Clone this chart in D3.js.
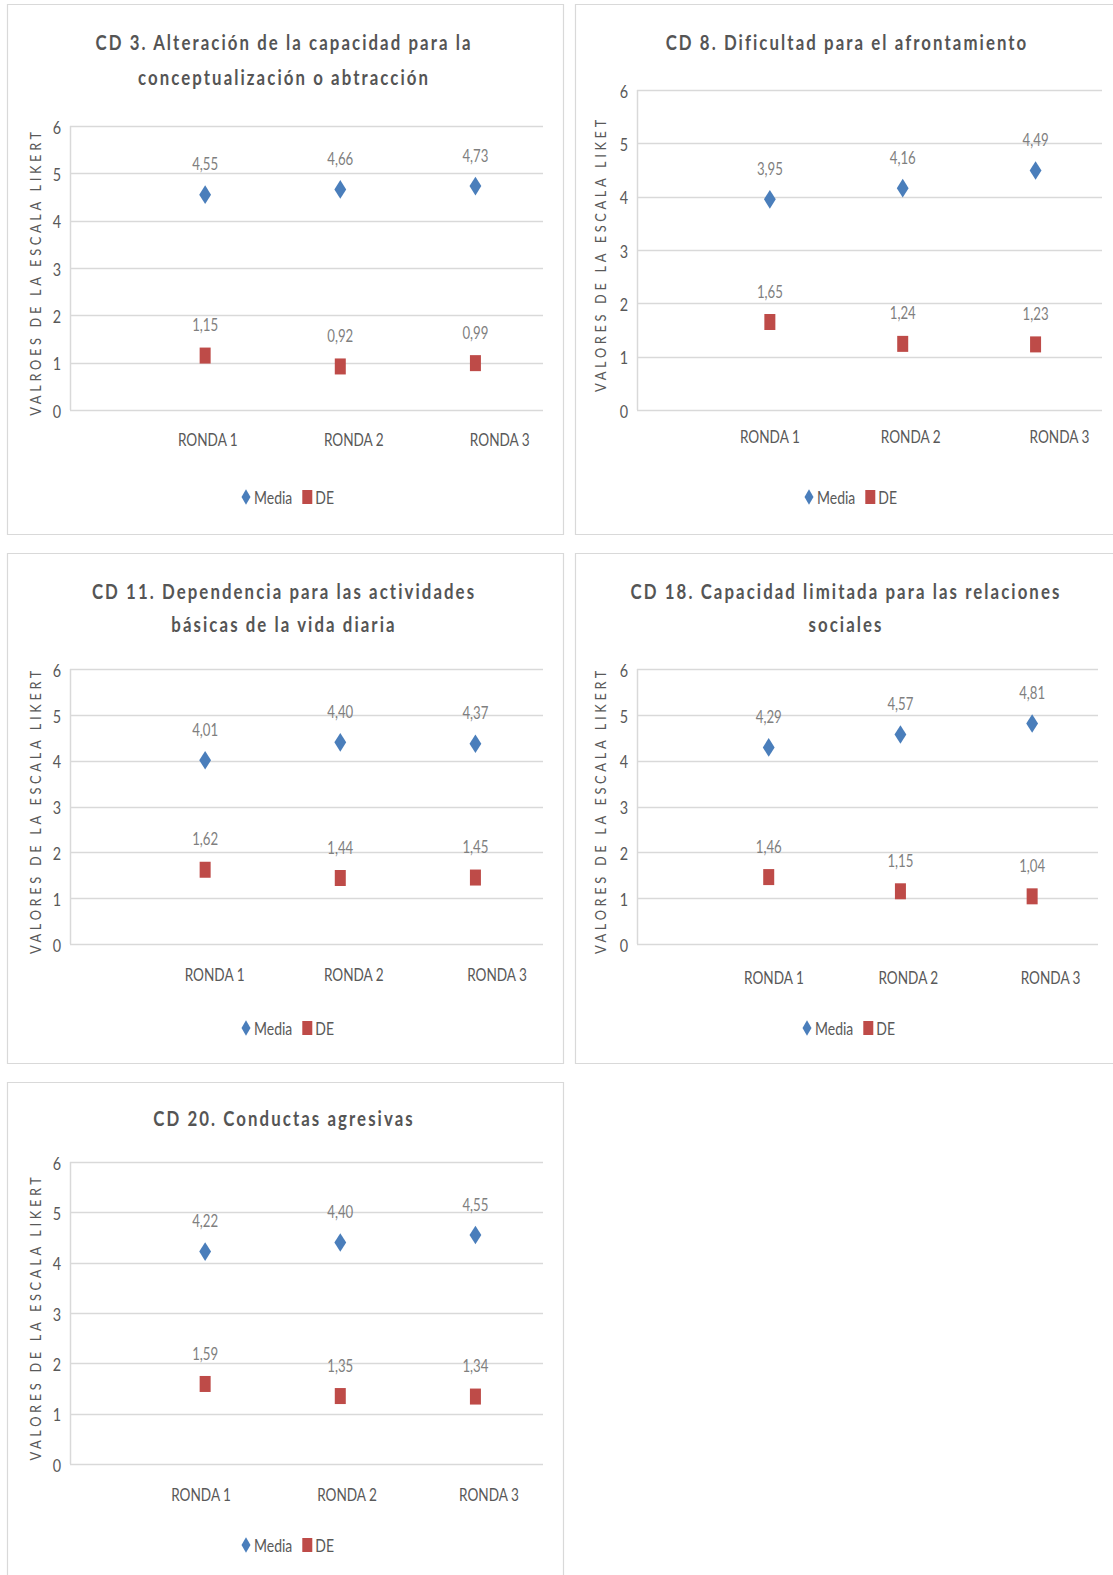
<!DOCTYPE html>
<html>
<head>
<meta charset="utf-8">
<script src="https://cdn.jsdelivr.net/npm/d3@7"></script>
<style>
  html, body { margin: 0; padding: 0; background: #fff; }
  svg { display: block; }
  text { font-family: Lato, "Open Sans", "Liberation Sans", sans-serif; }
</style>
</head>
<body>
<svg id="chart" width="1113" height="1575"></svg>
<script>
// Rounds of the Delphi panel and the Likert axis
const rounds = ["RONDA 1", "RONDA 2", "RONDA 3"];
const roundPos = [1, 2, 3];
const yTicks = [0, 1, 2, 3, 4, 5, 6];

// One entry per criterion (CD)
const titles = [
  ["CD 3.  Alteración de la capacidad para la", "conceptualización o abtracción"],
  ["CD  8. Dificultad para el afrontamiento"],
  ["CD 11.  Dependencia para las actividades", "básicas de la vida diaria"],
  ["CD 18.  Capacidad limitada para las relaciones", "sociales"],
  ["CD 20.  Conductas agresivas"]
];
const yTitles = [
  "VALROES DE LA ESCALA LIKERT",
  "VALORES DE LA ESCALA LIKET",
  "VALORES DE LA ESCALA LIKERT",
  "VALORES DE LA ESCALA LIKERT",
  "VALORES DE LA ESCALA LIKERT"
];
const media = [
  [4.55, 4.66, 4.73],
  [3.95, 4.16, 4.49],
  [4.01, 4.40, 4.37],
  [4.29, 4.57, 4.81],
  [4.22, 4.40, 4.55]
];
const de = [
  [1.15, 0.92, 0.99],
  [1.65, 1.24, 1.23],
  [1.62, 1.44, 1.45],
  [1.46, 1.15, 1.04],
  [1.59, 1.35, 1.34]
];
const seriesNames = ["Media", "DE"];

// Panel geometry (page pixels); right-hand panels run past the page edge
const layout = [
  { box: [7, 4, 563, 534],       plot: [70, 126, 543, 410],   titleX: 284, titleY: [42, 77],   yTitleX: 35,  xLabelY: 439,  legendX: 246, legendY: 497,  tickNudge: [1.02, 2.10, 3.18] },
  { box: [575, 4, 1113, 534],    plot: [637, 90, 1102, 410],  titleX: 847, titleY: [42],       yTitleX: 600, xLabelY: 436,  legendX: 809, legendY: 497,  tickNudge: [1.0, 2.06, 3.18] },
  { box: [7, 553, 563, 1063],    plot: [70, 669, 543, 944],   titleX: 284, titleY: [591, 624], yTitleX: 35,  xLabelY: 974,  legendX: 246, legendY: 1028, tickNudge: [1.07, 2.10, 3.16] },
  { box: [575, 553, 1113, 1063], plot: [637, 669, 1098, 944], titleX: 846, titleY: [591, 624], yTitleX: 600, xLabelY: 977,  legendX: 807, legendY: 1028, tickNudge: [1.04, 2.06, 3.14] },
  { box: [7, 1082, 563, 1575],   plot: [70, 1162, 543, 1464], titleX: 284, titleY: [1118],     yTitleX: 35,  xLabelY: 1494, legendX: 246, legendY: 1545, tickNudge: [0.97, 2.05, 3.10] }
];

const colors = { media: "#4a7ebb", de: "#be4b48", grid: "#d9d9d9", title: "#555555", tick: "#595959", label: "#7f7f7f" };
const fmt = v => d3.format(".2f")(v).replace(".", ",");
const NARROW = 0.8;   // horizontal squeeze applied to every label

const svg = d3.select("#chart");

// text placed at (x, y), squeezed horizontally, optionally rotated
function label(parent, x, y, str, rotate = 0) {
  return parent.append("text")
    .attr("transform", `translate(${x},${y}) rotate(${rotate}) scale(${NARROW},1)`)
    .attr("dominant-baseline", "central")
    .text(str);
}

media.forEach((m, i) => {
  const L = layout[i];
  const g = svg.append("g");

  // panel frame (open on the sides that leave the page)
  const [bx0, by0, bx1, by1] = L.box;
  const frame = d3.path();
  if (bx1 >= 1113) {
    frame.moveTo(bx1 + 1, by0 + 0.5); frame.lineTo(bx0 + 0.5, by0 + 0.5);
    frame.lineTo(bx0 + 0.5, by1 + 0.5); frame.lineTo(bx1 + 1, by1 + 0.5);
  } else if (by1 >= 1575) {
    frame.moveTo(bx0 + 0.5, by1 + 1); frame.lineTo(bx0 + 0.5, by0 + 0.5);
    frame.lineTo(bx1 + 0.5, by0 + 0.5); frame.lineTo(bx1 + 0.5, by1 + 1);
  } else {
    frame.rect(bx0 + 0.5, by0 + 0.5, bx1 - bx0, by1 - by0);
  }
  g.append("path").attr("d", frame.toString())
    .attr("fill", "none").attr("stroke", colors.grid).attr("stroke-width", 1.2);

  const x = d3.scaleLinear().domain([0, 3.5]).range([L.plot[0], L.plot[2]]);
  const y = d3.scaleLinear().domain([0, 6]).range([L.plot[3], L.plot[1]]);

  // horizontal gridlines
  g.append("g").selectAll("line").data(yTicks).join("line")
    .attr("x1", x(0)).attr("x2", x(3.5))
    .attr("y1", d => Math.round(y(d)) + 0.5).attr("y2", d => Math.round(y(d)) + 0.5)
    .attr("stroke", colors.grid).attr("stroke-width", 1.5);

  // vertical value axis line
  g.append("line")
    .attr("x1", Math.round(x(0)) + 0.5).attr("x2", Math.round(x(0)) + 0.5)
    .attr("y1", y(6)).attr("y2", y(0))
    .attr("stroke", colors.grid).attr("stroke-width", 1.5);

  // y tick labels
  const yAxis = d3.axisLeft(y).tickValues(yTicks).tickSize(0).tickPadding(0).tickFormat(d3.format("d"));
  const ya = g.append("g").attr("transform", `translate(${x(0) - 9},0)`).call(yAxis);
  ya.select(".domain").remove();
  ya.selectAll("text")
    .attr("x", null).attr("dy", null)
    .attr("dominant-baseline", "central")
    .attr("transform", `scale(${NARROW},1)`)
    .attr("fill", colors.tick).style("font-size", "18px").style("font-family", "Lato, sans-serif");

  // y-axis title
  label(g, L.yTitleX, (y(0) + y(6)) / 2 + 4, yTitles[i], -90)
    .attr("text-anchor", "middle")
    .attr("fill", colors.tick).style("font-size", "16px").style("letter-spacing", "4.6px");

  // x category labels
  rounds.forEach((r, k) => {
    label(g, x(L.tickNudge[k]), L.xLabelY, r)
      .attr("text-anchor", "middle")
      .attr("fill", colors.tick).style("font-size", "17px");
  });

  // title
  titles[i].forEach((t, k) => {
    label(g, L.titleX, L.titleY[k], t)
      .attr("text-anchor", "middle")
      .attr("fill", colors.title).style("font-size", "21px").style("font-weight", "bold")
      .style("letter-spacing", "2.6px");
  });

  const pts = roundPos.map((r, k) => ({ r, m: m[k], s: de[i][k] }));

  // Media markers (diamonds)
  const diamond = d3.symbol().type(d3.symbolDiamond).size(100);
  g.append("g").selectAll("path").data(pts).join("path")
    .attr("d", diamond)
    .attr("transform", d => `translate(${x(d.r)},${y(d.m)}) scale(1.1,1)`)
    .attr("fill", colors.media);

  // DE markers (squares)
  g.append("g").selectAll("rect").data(pts).join("rect")
    .attr("x", d => x(d.r) - 5.5).attr("y", d => y(d.s) - 8)
    .attr("width", 11).attr("height", 16)
    .attr("fill", colors.de);

  // value labels above each marker
  const vl = g.append("g");
  pts.forEach(d => {
    [d.m, d.s].forEach(v => {
      label(vl, x(d.r), y(v) - 31, fmt(v))
        .attr("text-anchor", "middle")
        .attr("fill", colors.label).style("font-size", "16.5px");
    });
  });

  // legend
  const lg = g.append("g").attr("transform", `translate(${L.legendX},${L.legendY})`);
  lg.append("path").attr("d", d3.symbol().type(d3.symbolDiamond).size(70)).attr("fill", colors.media);
  const t1 = label(lg, 8, 0, seriesNames[0])
    .attr("fill", colors.tick).style("font-size", "17.5px");
  const w1 = t1.node().getComputedTextLength() * NARROW;
  lg.append("rect").attr("x", 8 + w1 + 10).attr("y", -7).attr("width", 10).attr("height", 14).attr("fill", colors.de);
  label(lg, 8 + w1 + 23, 0, seriesNames[1])
    .attr("fill", colors.tick).style("font-size", "17.5px");
});
</script>
</body>
</html>
